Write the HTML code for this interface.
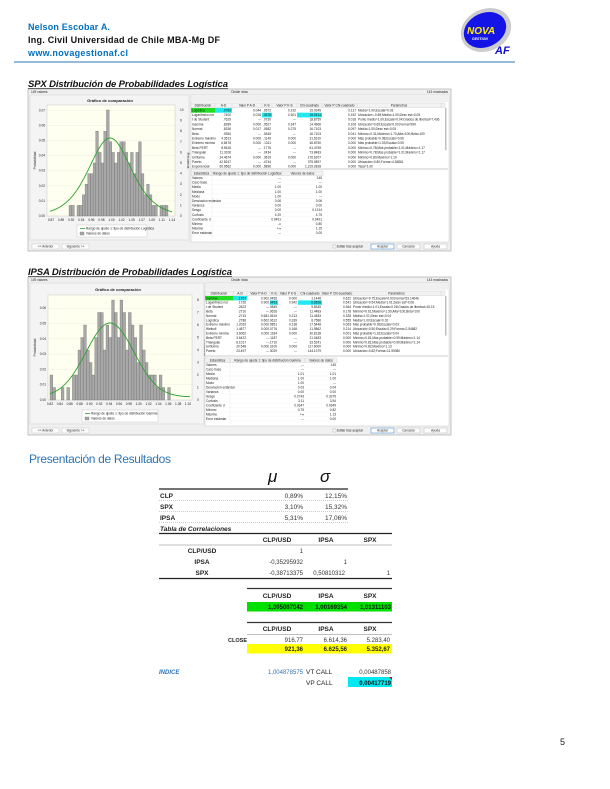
<!DOCTYPE html>
<html><head><meta charset="utf-8">
<style>
html,body{margin:0;padding:0;background:#fff;}
svg{display:block;}
text{font-family:"Liberation Sans",sans-serif;}
.t{font-size:3.2px;fill:#222;}
</style></head>
<body>
<svg id="s" width="610" height="789" viewBox="0 0 610 789" xmlns="http://www.w3.org/2000/svg">
<text x="28" y="30" font-size="9" font-weight="bold" fill="#0070c0" textLength="82">Nelson Escobar A.</text>
<text x="28" y="43" font-size="9" font-weight="bold" fill="#111" textLength="192">Ing. Civil Universidad de Chile MBA-Mg DF</text>
<text x="28" y="56" font-size="9" font-weight="bold" fill="#0070c0" textLength="100">www.novagestionaf.cl</text>
<line x1="14" y1="62" x2="515" y2="62" stroke="#2e75b6" stroke-width="1"/>
<g>
<ellipse cx="486" cy="30" rx="26" ry="21" fill="#ccc" transform="rotate(-25 486 30)"/>
<ellipse cx="485" cy="30" rx="22" ry="17" fill="#1414e6" transform="rotate(-25 485 30)"/>
<text x="467" y="34" font-size="10" font-weight="bold" font-style="italic" fill="#ffee00">NOVA</text>
<text x="472" y="40" font-size="3.5" font-weight="bold" font-style="italic" fill="#fff">GESTION</text>
<text x="495" y="54" font-size="11" font-weight="bold" font-style="italic" fill="#1010d0">AF</text>
</g>
<text x="28" y="87" font-size="9.5" font-weight="bold" font-style="italic" fill="#111" textLength="200">SPX Distribución de Probabilidades Logística</text>
<line x1="28" y1="88.5" x2="228" y2="88.5" stroke="#111" stroke-width="0.7"/>
<text x="28" y="275" font-size="9.5" font-weight="bold" font-style="italic" fill="#111" textLength="204">IPSA Distribución de Probabilidades Logística</text>
<line x1="28" y1="276.5" x2="232" y2="276.5" stroke="#111" stroke-width="0.7"/>

<g id="w1"></g>
<g id="w2"></g>

<text x="110" y="102" font-size="4" font-weight="bold" text-anchor="middle" fill="#222">Gráfico de comparación</text>
<text x="118" y="291" font-size="4" font-weight="bold" text-anchor="middle" fill="#222">Gráfico de comparación</text>

<text x="29" y="463" font-size="12" fill="#2e74b5" textLength="142">Presentación de Resultados</text>
<text x="268" y="482" font-size="17" font-style="italic" font-family="Liberation Serif,serif" fill="#111">μ</text>
<text x="320" y="482" font-size="17" font-style="italic" font-family="Liberation Serif,serif" fill="#111">σ</text>
<line x1="159" y1="489" x2="348" y2="489" stroke="#222" stroke-width="1.3"/>
<g font-size="6.5" fill="#222" font-weight="bold">
<text x="160" y="498">CLP</text><text x="160" y="509">SPX</text><text x="160" y="520">IPSA</text>
</g>
<g font-size="6.5" fill="#333" text-anchor="end">
<text x="303" y="498">0,89%</text><text x="347" y="498">12,15%</text>
<text x="303" y="509">3,10%</text><text x="347" y="509">15,32%</text>
<text x="303" y="520">5,31%</text><text x="347" y="520">17,06%</text>
</g>
<g stroke="#999" stroke-width="0.5" stroke-dasharray="1 1">
<line x1="159" y1="500.5" x2="348" y2="500.5"/><line x1="159" y1="511.5" x2="348" y2="511.5"/><line x1="159" y1="522.5" x2="348" y2="522.5"/>
</g>
<text x="160" y="531" font-size="6.5" font-weight="bold" font-style="italic" fill="#222">Tabla de Correlaciones</text>
<line x1="159" y1="533.5" x2="392" y2="533.5" stroke="#222" stroke-width="1.3"/>
<g font-size="6.5" font-weight="bold" fill="#222" text-anchor="middle">
<text x="277" y="542">CLP/USD</text><text x="326" y="542">IPSA</text><text x="370" y="542">SPX</text>
<text x="202" y="553">CLP/USD</text><text x="202" y="564">IPSA</text><text x="202" y="575">SPX</text>
</g>
<line x1="159" y1="545" x2="392" y2="545" stroke="#aaa" stroke-width="0.8"/>
<g font-size="6" fill="#333" text-anchor="end">
<text x="303" y="553">1</text>
<text x="303" y="564">-0,35295932</text><text x="347" y="564">1</text>
<text x="303" y="575">-0,38713375</text><text x="345" y="575">0,50810312</text><text x="390" y="575">1</text>
</g>
<line x1="159" y1="578.5" x2="392" y2="578.5" stroke="#222" stroke-width="1.3"/>

<line x1="247" y1="588.5" x2="392" y2="588.5" stroke="#333" stroke-width="1.3"/>
<g font-size="6.5" font-weight="bold" fill="#222" text-anchor="middle">
<text x="277" y="598">CLP/USD</text><text x="326" y="598">IPSA</text><text x="370" y="598">SPX</text>
</g>
<rect x="247" y="602" width="145" height="9.5" fill="#00e000"/>
<g font-size="6" font-weight="bold" fill="#111" text-anchor="end">
<text x="303" y="609">1,005007042</text><text x="347" y="609">1,00169354</text><text x="391" y="609">1,01311103</text>
</g>

<line x1="247" y1="622.5" x2="392" y2="622.5" stroke="#333" stroke-width="1.3"/>
<g font-size="6.5" font-weight="bold" fill="#222" text-anchor="middle">
<text x="277" y="631">CLP/USD</text><text x="326" y="631">IPSA</text><text x="370" y="631">SPX</text>
</g>
<line x1="247" y1="634.5" x2="392" y2="634.5" stroke="#aaa" stroke-width="0.8"/>
<text x="247" y="642" font-size="5.5" font-weight="bold" fill="#222" text-anchor="end">CLOSE</text>
<g font-size="6" fill="#333" text-anchor="end">
<text x="303" y="642">916,77</text><text x="347" y="642">6.614,36</text><text x="390" y="642">5.283,40</text>
</g>
<rect x="247" y="644" width="145" height="9.5" fill="#ffff00"/>
<g font-size="6" font-weight="bold" fill="#222" text-anchor="end">
<text x="303" y="651">921,36</text><text x="347" y="651">6.625,56</text><text x="390" y="651">5.352,67</text>
</g>

<text x="159" y="674" font-size="6" font-weight="bold" font-style="italic" fill="#2e74b5">INDICE</text>
<text x="303" y="674" font-size="6" fill="#2e74b5" text-anchor="end">1,004878575</text>
<text x="306" y="674" font-size="6.5" fill="#222">VT CALL</text>
<text x="391" y="674" font-size="6" fill="#333" text-anchor="end">0,00487858</text>
<text x="306" y="685" font-size="6.5" fill="#222">VP CALL</text>
<rect x="348" y="677" width="44" height="10" fill="#00e8f0"/>
<text x="391" y="685" font-size="6" font-weight="bold" fill="#111" text-anchor="end">0,00417719</text>
<polygon points="389,677 392,677 392,680" fill="#e00"/>

<text x="560" y="745" font-size="9" fill="#222">5</text>
</svg>
<script>
const NS="http://www.w3.org/2000/svg";
function el(p,tag,a,txt){const e=document.createElementNS(NS,tag);for(const k in a)e.setAttribute(k,a[k]);if(txt!==undefined)e.textContent=txt;p.appendChild(e);return e;}
function win(g,o){
 const {x0,y0,x1,y1}=o;
 el(g,"rect",{x:x0,y:y0,width:x1-x0,height:y1-y0,fill:"#f0f0f0",stroke:"#a0a0a0","stroke-width":0.6});
 el(g,"text",{x:x0+3,y:y0+4,class:"t"},"149 valores");
 el(g,"text",{x:(x0+x1)/2,y:y0+4,class:"t","text-anchor":"middle"},"Dividir vista");
 el(g,"text",{x:x1-3,y:y0+4,class:"t","text-anchor":"end"},"143 mostrados");
 el(g,"rect",{x:x0+2,y:y0+6,width:o.cp-x0-3,height:o.by-y0-10,fill:"#f4f4f4",stroke:"#c8c8c8","stroke-width":0.4});
 const P=o.plot;
 el(g,"rect",{x:P.x0,y:P.y0,width:P.x1-P.x0,height:P.y1-P.y0,fill:"#fffff0",stroke:"#bbb","stroke-width":0.4});
 for(let i=0;i<=o.pm;i++){const y=P.y1-i*o.pstep; el(g,"line",{x1:P.x0,x2:P.x1,y1:y,y2:y,stroke:"#ddd","stroke-width":0.3});
   el(g,"text",{x:P.x0-2,y:y+1,class:"t","text-anchor":"end"},"0.0"+i);}
 for(let i=0;i<=o.fm;i++){const y=P.y1-i*o.fstep; el(g,"text",{x:P.x1+5,y:y+1,class:"t"},String(i));}
 el(g,"text",{x:0,y:0,class:"t",transform:`translate(${x0+8},${(P.y0+P.y1)/2}) rotate(-90)`,"text-anchor":"middle"},"Probabilidad");
 el(g,"text",{x:0,y:0,class:"t",transform:`translate(${P.x1+12},${(P.y0+P.y1)/2}) rotate(90)`,"text-anchor":"middle"},"Frecuencia");
 o.xl.forEach((l,i)=>{const x=o.xlx0+i*(o.xlx1-o.xlx0)/(o.xl.length-1);el(g,"text",{x:x,y:P.y1+5,class:"t","text-anchor":"middle"},l);});
 const bw=(o.bx1-o.bx0)/o.bars.length;
 o.bars.forEach((h,i)=>{if(h>0)el(g,"rect",{x:o.bx0+i*bw,y:P.y1-h*o.fstep,width:bw,height:h*o.fstep,fill:"#a8a8a8",stroke:"#666","stroke-width":0.3});});
 let d="";for(let x=o.cx0;x<=o.cx1;x+=0.5){const y=o.f(x);d+=(d?"L":"M")+x.toFixed(1)+","+y.toFixed(1);}
 el(g,"path",{d:d,fill:"none",stroke:"#2ca02c","stroke-width":0.9});
 const L=o.leg;el(g,"rect",{x:L[0],y:L[1],width:L[2]-L[0],height:L[3]-L[1],fill:"#fff",stroke:"#bbb","stroke-width":0.4});
 el(g,"line",{x1:L[0]+3,x2:L[0]+8,y1:L[1]+3.5,y2:L[1]+3.5,stroke:"#2ca02c","stroke-width":0.8});
 el(g,"text",{x:L[0]+9,y:L[1]+4.5,class:"t","font-size":"2.8"},o.legtxt);
 el(g,"rect",{x:L[0]+3,y:L[1]+7,width:4,height:3,fill:"#a8a8a8",stroke:"#666","stroke-width":0.3});
 el(g,"text",{x:L[0]+9,y:L[1]+9.7,class:"t","font-size":"2.8"},"Valores de datos");
 const by=o.by;
 [[x0+4,"<< Anterior"],[x0+34,"Siguiente >>"]].forEach(([x,t])=>{el(g,"rect",{x:x,y:by,width:27,height:5,fill:"#fdfdfd",stroke:"#bbb","stroke-width":0.4});el(g,"text",{x:x+13.5,y:by+3.6,class:"t","text-anchor":"middle"},t);});
 el(g,"rect",{x:x1-118,y:by+1,width:3,height:3,fill:"#fff",stroke:"#888","stroke-width":0.3});
 el(g,"text",{x:x1-114,y:by+3.6,class:"t"},"Editar tras aceptar");
 [[x1-80,"Aceptar","#3b7fd0"],[x1-54,"Cancelar","#bbb"],[x1-27,"Ayuda","#bbb"]].forEach(([x,t,c])=>{el(g,"rect",{x:x,y:by,width:23,height:5,fill:"#fdfdfd",stroke:c,"stroke-width":0.5});el(g,"text",{x:x+11.5,y:by+3.6,class:"t","text-anchor":"middle"},t);});
 const T=o.tab;
 el(g,"rect",{x:T.x0,y:y0+6,width:x1-T.x0-2,height:by-y0-8,fill:"#fff",stroke:"#bbb","stroke-width":0.4});
 el(g,"rect",{x:T.x0,y:y0+6,width:x1-T.x0-2,height:T.hy-y0-7,fill:"#f0f0f0"});
 const C=T.cols;
 el(g,"rect",{x:T.x0,y:T.hy,width:x1-T.x0-6,height:4.5,fill:"#f2f2f2",stroke:"#bbb","stroke-width":0.3});
 T.heads.forEach((h,i)=>{el(g,"text",{x:(C[i]+C[i+1])/2,y:T.hy+3.4,class:"t","text-anchor":"middle","font-size":"2.8"},h);el(g,"line",{x1:C[i+1],x2:C[i+1],y1:T.hy,y2:T.hy+4.5,stroke:"#bbb","stroke-width":0.3});});
 T.hl.forEach(([r,c,col])=>el(g,"rect",{x:C[c],y:T.ry+r*T.rs,width:C[c+1]-C[c],height:T.rs,fill:col}));
 T.rows.forEach((r,j)=>{const y=T.ry+j*T.rs+3.3;r.forEach((v,i)=>{if(i==0||i==7)el(g,"text",{x:C[i]+1,y:y,class:"t","font-size":"3"},v);else el(g,"text",{x:C[i+1]-1,y:y,class:"t","font-size":"3","text-anchor":"end"},v);});});
 el(g,"rect",{x:x1-6,y:T.ry,width:1.5,height:T.rs*9,fill:"#c0c0c0"});
 el(g,"line",{x1:T.x0,x2:x1-3,y1:T.sy-2,y2:T.sy-2,stroke:"#999","stroke-width":0.5});
 const S=T.scols;
 ["Estadística",T.shead,"Valores de datos"].forEach((h,i)=>{el(g,"rect",{x:S[i],y:T.sy,width:S[i+1]-S[i],height:4.5,fill:"#f2f2f2",stroke:"#bbb","stroke-width":0.3});el(g,"text",{x:(S[i]+S[i+1])/2,y:T.sy+3.4,class:"t","font-size":"2.8","text-anchor":"middle"},h);});
 T.stats.forEach((r,j)=>{const y=T.sy+8+j*T.ss;el(g,"text",{x:S[0]+1,y:y,class:"t","font-size":"3"},r[0]);el(g,"text",{x:S[2]-1,y:y,class:"t","font-size":"3","text-anchor":"end"},r[1]);el(g,"text",{x:S[3]-1,y:y,class:"t","font-size":"3","text-anchor":"end"},r[2]);el(g,"line",{x1:S[0],x2:S[3],y1:y+1,y2:y+1,stroke:"#eee","stroke-width":0.3});});
 el(g,"line",{x1:S[1],x2:S[1],y1:T.sy,y2:by-3,stroke:"#ddd","stroke-width":0.3});
}
const heads=["Distribución","A-D","Valor P A-D","K-S","Valor P K-S","Chi-cuadrado","Valor P Chi-cuadrado","Parámetros"];
(function(){
 const P={x0:47,y0:105,x1:175,y1:216};
 const m=110,pk=138,s2=14.4;
 win(document.getElementById("w1"),{x0:28,y0:89,x1:451,y1:251,cp:190,by:244,plot:P,pm:7,pstep:15.1,fm:10,fstep:10.6,
 xl:["0.87","0.89","0.92","0.94","0.96","0.98","1.00","1.02","1.05","1.07","1.09","1.11","1.14"],xlx0:51,xlx1:172,
 bars:[1,1,0,1,1,2,3,4,4,5,8,6,5,8,10,7,6,5,6,7,7,6,5,6,4,6,7,4,2,3,2,1,1,0,1,1,1],bx0:69,bx1:168,
 cx0:50,cx1:172,f:x=>{const c=Math.cosh((x-m)/s2/2);return P.y1-(P.y1-pk)/(c*c);},
 leg:[77,225,147,237],legtxt:"Rango de ajuste 1: tipo de distribución Logística",
 tab:{x0:191,hy:103,ry:108,rs:4.7,cols:[191,215,232,262,272,297,322,357,441],heads:heads,
  hl:[[0,0,"#22dd22"],[0,1,"#22e8f0"],[1,3,"#22e8f0"],[1,5,"#22e8f0"]],
  rows:[["Logística",".0780","0.044",".0572","0.192","15.0345","0.117","Media=1.00;Escala=0.03"],
  ["Logarítmico nor",".7400","0.018",".0578","0.301","15.0414","0.152","Ubicación=-0.69;Media=1.00;Desv est=0.05"],
  ["t de Student",".7629","---",".0730","---","18.8759","0.018","Punto medio=1.00;Escala=0.04;Grados de libertad=7.436"],
  ["Gamma",".8289","0.000",".0527","0.347","14.4966","0.106","Ubicación=0.69;Escala=0.00;Forma=999"],
  ["Normal",".8336","0.017",".0582","0.275","16.7103","0.097","Media=1.00;Desv est=0.05"],
  ["Beta",".9354","---",".0545","---","16.7103","0.041","Mínimo=0.31;Máximo=1.70;Alfa=100;Beta=100"],
  ["Extremo máximo","4.3513","0.000",".1149","0.000","31.5310","0.000","Más probable=0.98;Escala=0.06"],
  ["Extremo mínimo","6.8478","0.000",".1311","0.000","46.8750","0.000","Más probable=1.03;Escala=0.05"],
  ["Beta PERT","8.5518","---",".1776","---","61.4759","0.000","Mínimo=0.78;Más probable=1.01;Máximo=1.17"],
  ["Triangular","11.3106","---",".2434","---","73.8483","0.000","Mínimo=0.78;Más probable=1.01;Máximo=1.17"],
  ["Uniforme","24.4674","0.000",".3619","0.000","176.6207","0.000","Mínimo=0.80;Máximo=1.19"],
  ["Pareto","42.8247","---",".4744","---","375.0897","0.000","Ubicación=0.80;Forma=4.36861"],
  ["Exponencial","60.9562","0.000",".5896","0.000","1,219.2828","0.000","Tasa=1.00"]],
  sy:171,scols:[191,212,282,323],shead:"Rango de ajuste 1: tipo de distribución Logística",ss:4.6,
  stats:[["Valores","---","145"],["Caso base","---","---"],["Media","1.00","1.00"],["Mediana","1.00","1.00"],["Modo","1.00","---"],["Desviación estándar","0.06","0.06"],["Varianza","0.00","0.00"],["Sesgo","0.00","0.1314"],["Curtosis","4.20","4.75"],["Coeficiente d","0.0491","0.0491"],["Mínimo","-\u221e","0.80"],["Máximo","+\u221e","1.15"],["Error estándar","---","0.00"]]}});
})();
(function(){
 const P={x0:48,y0:295,x1:192,y1:400};
 const m=110,pk=323,sg=24;
 win(document.getElementById("w2"),{x0:28,y0:277,x1:451,y1:435,cp:205,by:428,plot:P,pm:6,pstep:15.3,fm:8,fstep:12.5,
 xl:["0.82","0.84","0.86","0.88","0.90","0.92","0.94","0.96","0.98","1.00","1.02","1.04","1.06","1.08","1.10"],xlx0:50,xlx1:188,
 bars:[2,1,0,0,1,0,1,0,2,2,4,5,6,4,3,2,5,7,7,4,6,5,8,7,5,8,7,4,7,6,5,3,6,4,3,2,2,2,1,2,1,0,1,0,0],bx0:50,bx1:176,
 cx0:50,cx1:190,f:x=>P.y1-3-(P.y1-3-pk)*Math.exp(-(x-m)*(x-m)/(2*sg*sg)),
 leg:[82,410,158,422],legtxt:"Rango de ajuste 1: tipo de distribución Gamma",
 tab:{x0:205,hy:291,ry:296,rs:4.4,cols:[205,233,247,270,278,298,322,352,441],heads:heads,
  hl:[[0,0,"#22dd22"],[0,1,"#22e8f0"],[1,3,"#22e8f0"],[1,5,"#22e8f0"]],
  rows:[["Gamma",".1707","0.902",".0456","0.000","1.1448","0.622","Ubicación=0.75;Escala=0.00;Forma=53.14646"],
  ["Logarítmico nor",".1726","0.900",".0453","0.942","6.8658","0.541","Ubicación=0.54;Media=1.01;Desv est=0.06"],
  ["t de Student",".2623","---",".0849","---","9.8345","0.364","Punto medio=1.01;Escala=0.05;Grados de libertad=15.15"],
  ["Beta",".2710","---",".0616","---","11.4483","0.178","Mínimo=0.61;Máximo=1.50;Alfa=100;Beta=100"],
  ["Normal",".2715","0.681",".0619","0.213","11.4483","0.328","Media=1.01;Desv est=0.04"],
  ["Logística",".2788","0.602",".0612","0.339","8.7586","0.555","Media=1.00;Escala=0.02"],
  ["Extremo máximo","1.2029","0.000",".0851","0.138","17.5448","0.063","Más probable=0.99;Escala=0.03"],
  ["Weibull","1.4877","0.000",".0776","0.168","11.9862","0.214","Ubicación=0.50;Escala=0.29;Forma=2.54682"],
  ["Extremo mínimo","3.6062","0.000",".1184","0.000","30.8138","0.001","Más probable=1.02;Escala=0.04"],
  ["Beta PERT","3.6422","---",".1187","---","21.0483","0.000","Mínimo=0.81;Más probable=0.99;Máximo=1.14"],
  ["Triangular","6.1017","---",".1710","---","33.5241","0.000","Mínimo=0.81;Más probable=0.99;Máximo=1.14"],
  ["Uniforme","20.548","0.000",".3109","0.000","117.6000","0.000","Mínimo=0.82;Máximo=1.13"],
  ["Pareto","23.497","---",".3029","---","144.1379","0.000","Ubicación=0.82;Forma=11.59080"]],
  sy:358,scols:[205,230,305,337],shead:"Rango de ajuste 1: tipo de distribución Gamma",ss:4.5,
  stats:[["Valores","---","145"],["Caso base","---","---"],["Media","1.01","1.01"],["Mediana","1.00","1.00"],["Modo","1.00","---"],["Desviación estándar","0.03","0.04"],["Varianza","0.00","0.00"],["Sesgo","0.2743","0.3379"],["Curtosis","3.11","3.54"],["Coeficiente d","0.0347","0.0349"],["Mínimo","0.75","0.82"],["Máximo","+\u221e","1.13"],["Error estándar","---","0.00"]]}});
})();
</script>
</body></html>
